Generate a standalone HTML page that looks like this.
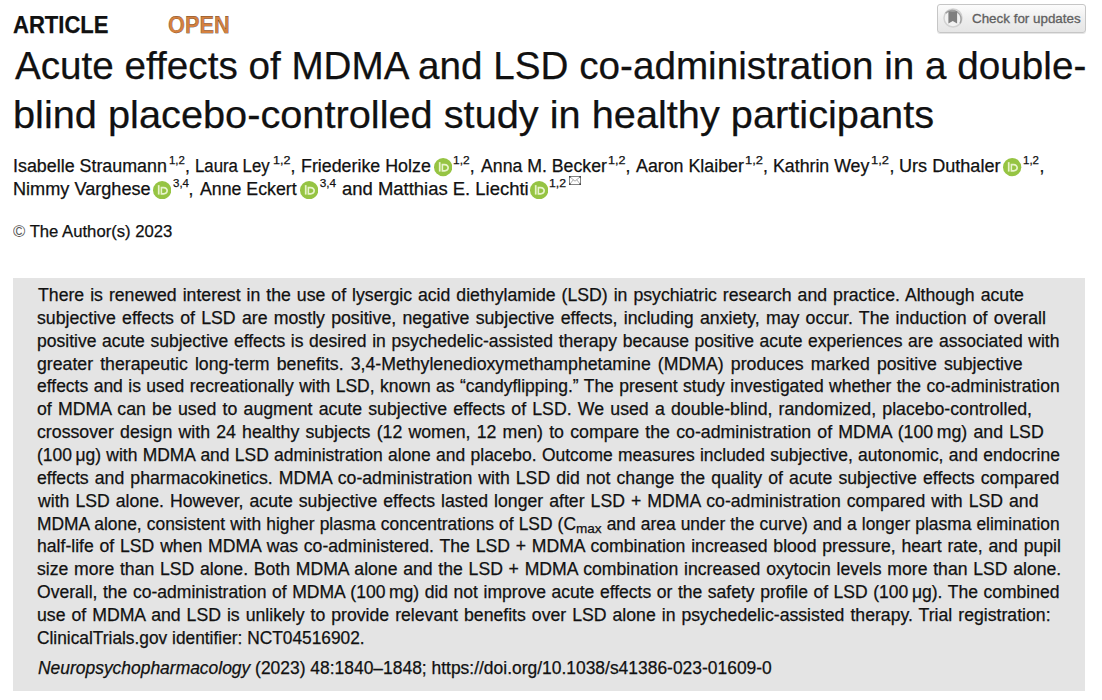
<!doctype html>
<html><head><meta charset="utf-8"><title>Acute effects of MDMA and LSD co-administration</title>
<style>
*{margin:0;padding:0;box-sizing:border-box}
html,body{width:1102px;height:700px;overflow:hidden;background:#fff}
body{font-family:"Liberation Sans",sans-serif;color:#111;position:relative}
.l{position:absolute;white-space:nowrap;transform-origin:0 0;-webkit-text-stroke:0.25px #111}
.b{font-weight:bold}
sup{font-size:11.6px;vertical-align:0;position:relative;top:-8.4px;line-height:0;margin-left:1.5px}
sub{font-size:0.78em;vertical-align:0;position:relative;top:0.22em;line-height:0}

.box{position:absolute;left:13px;top:278px;width:1072px;height:413px;background:#e4e4e4}
</style></head><body>
<div class="box"></div>
<div style="position:absolute;left:937px;top:4px;width:149px;height:29px;border:1px solid #c6c6c6;border-radius:3px;background:linear-gradient(#fcfcfc,#ececec 60%,#e6e6e6);box-shadow:0 1px 0 rgba(0,0,0,.10)"></div>
<svg width="22" height="22" viewBox="0 0 22 22" style="position:absolute;left:942px;top:7px"><circle cx="11" cy="11" r="9" fill="#f2f2f2" stroke="#d2d2d2" stroke-width="1.5"/><path d="M3.6 6.2A9 9 0 0 1 18.2 16.4" fill="none" stroke="#a0a0a0" stroke-width="1.5"/><path d="M6.4 4.2h8.7v12.2l-4.35-2.4-4.35 2.4z" fill="#7f7f7f"/></svg>
<div class="l" style="left:972px;top:10.5px;font-size:13.4px;line-height:16px;color:#606060;-webkit-text-stroke:0.3px #606060;transform:scaleX(1.0)">Check for updates</div>

<div class="l b" style="left:12.68px;top:13.00px;font-size:24px;line-height:24px;color:#111;transform:scaleX(0.9186)">ARTICLE</div>
<div class="l b" style="left:168.45px;top:14.00px;font-size:23px;line-height:23px;color:#d5813f;transform:scaleX(0.9460)">OPEN</div>
<div class="l " style="left:14.50px;top:46.00px;font-size:39.3px;line-height:39.3px;color:#111;transform:scaleX(0.9835)">Acute effects of MDMA and LSD co-administration in a double-</div>
<div class="l " style="left:12.88px;top:95.00px;font-size:39.3px;line-height:39.3px;color:#111;transform:scaleX(1.0111)">blind placebo-controlled study in healthy participants</div>
<div class="l " style="left:12.58px;top:158.00px;font-size:17.6px;line-height:17.6px;color:#111;transform:scaleX(1.0153)">Isabelle Straumann</div>
<div class="l " style="left:168.63px;top:155.00px;font-size:11.8px;line-height:11.8px;color:#111;transform:scaleX(0.9667)">1,2</div>
<div class="l " style="left:185.00px;top:158.00px;font-size:17.6px;line-height:17.6px;color:#111;transform:scaleX(1.0000)">,</div>
<div class="l " style="left:195.45px;top:158.00px;font-size:17.6px;line-height:17.6px;color:#111;transform:scaleX(0.9538)">Laura Ley</div>
<div class="l " style="left:272.73px;top:155.00px;font-size:11.8px;line-height:11.8px;color:#111;transform:scaleX(1.0667)">1,2</div>
<div class="l " style="left:290.60px;top:158.00px;font-size:17.6px;line-height:17.6px;color:#111;transform:scaleX(1.0000)">,</div>
<div class="l " style="left:301.19px;top:158.00px;font-size:17.6px;line-height:17.6px;color:#111;transform:scaleX(1.0134)">Friederike Holze</div>
<div class="l " style="left:452.99px;top:155.00px;font-size:11.8px;line-height:11.8px;color:#111;transform:scaleX(1.0133)">1,2</div>
<div class="l " style="left:469.80px;top:158.00px;font-size:17.6px;line-height:17.6px;color:#111;transform:scaleX(1.0000)">,</div>
<div class="l " style="left:481.00px;top:158.00px;font-size:17.6px;line-height:17.6px;color:#111;transform:scaleX(1.0056)">Anna M. Becker</div>
<div class="l " style="left:607.63px;top:155.00px;font-size:11.8px;line-height:11.8px;color:#111;transform:scaleX(1.0667)">1,2</div>
<div class="l " style="left:625.40px;top:158.00px;font-size:17.6px;line-height:17.6px;color:#111;transform:scaleX(1.0000)">,</div>
<div class="l " style="left:635.60px;top:158.00px;font-size:17.6px;line-height:17.6px;color:#111;transform:scaleX(1.0121)">Aaron Klaiber</div>
<div class="l " style="left:744.91px;top:155.00px;font-size:11.8px;line-height:11.8px;color:#111;transform:scaleX(1.0933)">1,2</div>
<div class="l " style="left:763.10px;top:158.00px;font-size:17.6px;line-height:17.6px;color:#111;transform:scaleX(1.0000)">,</div>
<div class="l " style="left:773.39px;top:158.00px;font-size:17.6px;line-height:17.6px;color:#111;transform:scaleX(1.0084)">Kathrin Wey</div>
<div class="l " style="left:871.31px;top:155.00px;font-size:11.8px;line-height:11.8px;color:#111;transform:scaleX(1.0933)">1,2</div>
<div class="l " style="left:889.50px;top:158.00px;font-size:17.6px;line-height:17.6px;color:#111;transform:scaleX(1.0000)">,</div>
<div class="l " style="left:898.97px;top:158.00px;font-size:17.6px;line-height:17.6px;color:#111;transform:scaleX(1.0276)">Urs Duthaler</div>
<div class="l " style="left:1023.23px;top:155.00px;font-size:11.8px;line-height:11.8px;color:#111;transform:scaleX(0.9733)">1,2</div>
<div class="l " style="left:1039.60px;top:158.00px;font-size:17.6px;line-height:17.6px;color:#111;transform:scaleX(1.0000)">,</div>
<div class="l " style="left:12.57px;top:181.00px;font-size:17.6px;line-height:17.6px;color:#111;transform:scaleX(1.0303)">Nimmy Varghese</div>
<div class="l " style="left:172.80px;top:178.00px;font-size:11.8px;line-height:11.8px;color:#111;transform:scaleX(0.9750)">3,4</div>
<div class="l " style="left:188.50px;top:181.00px;font-size:17.6px;line-height:17.6px;color:#111;transform:scaleX(1.0000)">,</div>
<div class="l " style="left:200.00px;top:181.00px;font-size:17.6px;line-height:17.6px;color:#111;transform:scaleX(1.0083)">Anne Eckert</div>
<div class="l " style="left:319.70px;top:178.00px;font-size:11.8px;line-height:11.8px;color:#111;transform:scaleX(1.0000)">3,4</div>
<div class="l " style="left:342.25px;top:181.00px;font-size:17.6px;line-height:17.6px;color:#111;transform:scaleX(1.0489)">and Matthias E. Liechti</div>
<div class="l " style="left:549.36px;top:178.00px;font-size:11.8px;line-height:11.8px;color:#111;transform:scaleX(1.0400)">1,2</div>
<div class="l " style="left:13.20px;top:224.00px;font-size:16.8px;line-height:16.8px;color:#111;transform:scaleX(0.9938)"><span style="color:#555;-webkit-text-stroke:0">©</span> The Author(s) 2023</div>
<div class="l ab" style="left:38.40px;top:287.00px;font-size:17.5px;line-height:17.5px;color:#111;word-spacing:1.053px;transform:scaleX(1.0100)">There is renewed interest in the use of lysergic acid diethylamide (LSD) in psychiatric research and practice. Although acute</div>
<div class="l ab" style="left:37.39px;top:310.00px;font-size:17.5px;line-height:17.5px;color:#111;word-spacing:1.287px;transform:scaleX(1.0128)">subjective effects of LSD are mostly positive, negative subjective effects, including anxiety, may occur. The induction of overall</div>
<div class="l ab" style="left:37.40px;top:333.00px;font-size:17.5px;line-height:17.5px;color:#111;word-spacing:0.739px;transform:scaleX(1.0010)">positive acute subjective effects is desired in psychedelic-assisted therapy because positive acute experiences are associated with</div>
<div class="l ab" style="left:37.39px;top:356.00px;font-size:17.5px;line-height:17.5px;color:#111;word-spacing:2.200px;transform:scaleX(1.0110)">greater therapeutic long-term benefits. 3,4-Methylenedioxymethamphetamine (MDMA) produces marked positive subjective</div>
<div class="l ab" style="left:37.40px;top:378.00px;font-size:17.5px;line-height:17.5px;color:#111;word-spacing:0.592px;transform:scaleX(0.9993)">effects and is used recreationally with LSD, known as “candyflipping.” The present study investigated whether the co-administration</div>
<div class="l ab" style="left:37.39px;top:401.00px;font-size:17.5px;line-height:17.5px;color:#111;word-spacing:1.252px;transform:scaleX(1.0125)">of MDMA can be used to augment acute subjective effects of LSD. We used a double-blind, randomized, placebo-controlled,</div>
<div class="l ab" style="left:37.39px;top:424.00px;font-size:17.5px;line-height:17.5px;color:#111;word-spacing:1.236px;transform:scaleX(1.0132)">crossover design with 24 healthy subjects (12 women, 12 men) to compare the co-administration of MDMA (100&#8201;mg) and LSD</div>
<div class="l ab" style="left:37.40px;top:447.00px;font-size:17.5px;line-height:17.5px;color:#111;word-spacing:0.487px;transform:scaleX(0.9972)">(100&#8201;μg) with MDMA and LSD administration alone and placebo. Outcome measures included subjective, autonomic, and endocrine</div>
<div class="l ab" style="left:37.39px;top:470.00px;font-size:17.5px;line-height:17.5px;color:#111;word-spacing:1.169px;transform:scaleX(1.0090)">effects and pharmacokinetics. MDMA co-administration with LSD did not change the quality of acute subjective effects compared</div>
<div class="l ab" style="left:38.40px;top:493.00px;font-size:17.5px;line-height:17.5px;color:#111;word-spacing:1.088px;transform:scaleX(1.0092)">with LSD alone. However, acute subjective effects lasted longer after LSD + MDMA co-administration compared with LSD and</div>
<div class="l ab" style="left:37.41px;top:516.00px;font-size:17.5px;line-height:17.5px;color:#111;word-spacing:0.239px;transform:scaleX(0.9944)">MDMA alone, consistent with higher plasma concentrations of LSD (C<sub>max</sub> and area under the curve) and a longer plasma elimination</div>
<div class="l ab" style="left:37.39px;top:538.00px;font-size:17.5px;line-height:17.5px;color:#111;word-spacing:0.905px;transform:scaleX(1.0064)">half-life of LSD when MDMA was co-administered. The LSD + MDMA combination increased blood pressure, heart rate, and pupil</div>
<div class="l ab" style="left:37.39px;top:561.00px;font-size:17.5px;line-height:17.5px;color:#111;word-spacing:0.839px;transform:scaleX(1.0069)">size more than LSD alone. Both MDMA alone and the LSD + MDMA combination increased oxytocin levels more than LSD alone.</div>
<div class="l ab" style="left:37.40px;top:584.00px;font-size:17.5px;line-height:17.5px;color:#111;word-spacing:0.655px;transform:scaleX(1.0024)">Overall, the co-administration of MDMA (100&#8201;mg) did not improve acute effects or the safety profile of LSD (100&#8201;μg). The combined</div>
<div class="l ab" style="left:37.39px;top:607.00px;font-size:17.5px;line-height:17.5px;color:#111;word-spacing:1.055px;transform:scaleX(1.0095)">use of MDMA and LSD is unlikely to provide relevant benefits over LSD alone in psychedelic-assisted therapy. Trial registration:</div>
<div class="l ab" style="left:37.41px;top:630.00px;font-size:17.5px;line-height:17.5px;color:#111;transform:scaleX(0.9897)">ClinicalTrials.gov identifier: NCT04516902.</div>
<div class="l ab" style="left:38.40px;top:660.00px;font-size:17.5px;line-height:17.5px;color:#111;transform:scaleX(0.9963)"><i>Neuropsychopharmacology</i> (2023) 48:1840–1848; https://doi.org/10.1038/s41386-023-01609-0</div>
<div style="position:absolute;left:433.50px;top:158.25px;width:18.3px;height:18.3px;line-height:0"><svg class="orc" width="18.3" height="18.3" viewBox="0 0 256 256" style="display:block"><circle cx="128" cy="128" r="128" fill="#96c443"/><g fill="#e8f4cc"><path d="M92 190H68V58h24z"/><path d="M106 82h40c44 0 64 30 64 55c0 28-23 55-62 55h-42z M128 168h18c28 0 40-15 40-31c0-16-11-31-40-31h-18z" fill-rule="evenodd"/></g></svg></div><div style="position:absolute;left:1003.30px;top:158.25px;width:18.3px;height:18.3px;line-height:0"><svg class="orc" width="18.3" height="18.3" viewBox="0 0 256 256" style="display:block"><circle cx="128" cy="128" r="128" fill="#96c443"/><g fill="#e8f4cc"><path d="M92 190H68V58h24z"/><path d="M106 82h40c44 0 64 30 64 55c0 28-23 55-62 55h-42z M128 168h18c28 0 40-15 40-31c0-16-11-31-40-31h-18z" fill-rule="evenodd"/></g></svg></div><div style="position:absolute;left:152.95px;top:180.85px;width:18.3px;height:18.3px;line-height:0"><svg class="orc" width="18.3" height="18.3" viewBox="0 0 256 256" style="display:block"><circle cx="128" cy="128" r="128" fill="#96c443"/><g fill="#e8f4cc"><path d="M92 190H68V58h24z"/><path d="M106 82h40c44 0 64 30 64 55c0 28-23 55-62 55h-42z M128 168h18c28 0 40-15 40-31c0-16-11-31-40-31h-18z" fill-rule="evenodd"/></g></svg></div><div style="position:absolute;left:300.10px;top:180.85px;width:18.3px;height:18.3px;line-height:0"><svg class="orc" width="18.3" height="18.3" viewBox="0 0 256 256" style="display:block"><circle cx="128" cy="128" r="128" fill="#96c443"/><g fill="#e8f4cc"><path d="M92 190H68V58h24z"/><path d="M106 82h40c44 0 64 30 64 55c0 28-23 55-62 55h-42z M128 168h18c28 0 40-15 40-31c0-16-11-31-40-31h-18z" fill-rule="evenodd"/></g></svg></div><div style="position:absolute;left:529.85px;top:180.85px;width:18.3px;height:18.3px;line-height:0"><svg class="orc" width="18.3" height="18.3" viewBox="0 0 256 256" style="display:block"><circle cx="128" cy="128" r="128" fill="#96c443"/><g fill="#e8f4cc"><path d="M92 190H68V58h24z"/><path d="M106 82h40c44 0 64 30 64 55c0 28-23 55-62 55h-42z M128 168h18c28 0 40-15 40-31c0-16-11-31-40-31h-18z" fill-rule="evenodd"/></g></svg></div><div style="position:absolute;left:569.2px;top:176px;line-height:0"><svg width="12" height="9" viewBox="0 0 12 9" style="display:block"><rect x="0.5" y="0.5" width="11" height="8" fill="none" stroke="#777" stroke-width="0.9"/><path d="M0.5 0.5L6 5.2L11.5 0.5M0.5 8.5L4.3 3.8M11.5 8.5L7.7 3.8" fill="none" stroke="#888" stroke-width="0.7"/><rect x="0" y="0" width="1.6" height="1.6" fill="#444"/><rect x="10.4" y="0" width="1.6" height="1.6" fill="#444"/><rect x="0" y="7.4" width="1.6" height="1.6" fill="#444"/><rect x="10.4" y="7.4" width="1.6" height="1.6" fill="#444"/></svg></div>
</body></html>
